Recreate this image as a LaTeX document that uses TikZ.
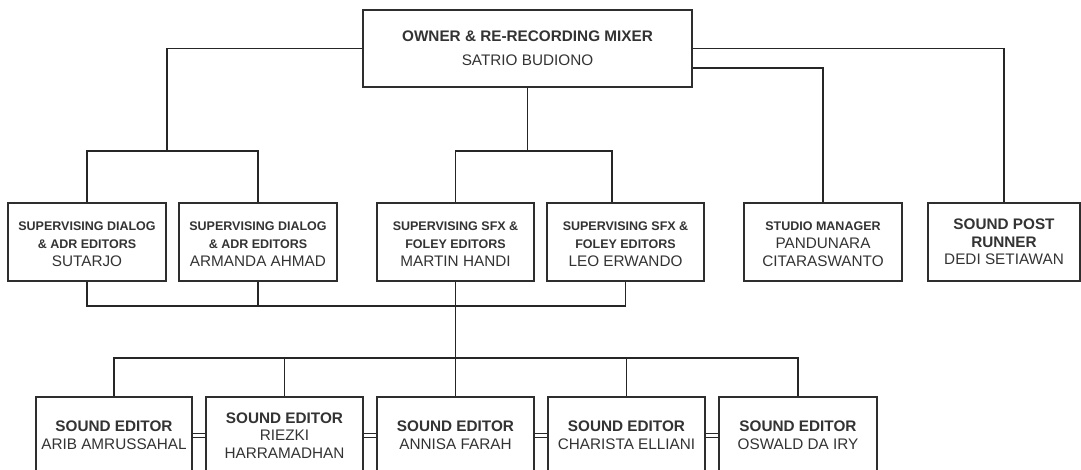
\documentclass[tikz,border=0pt]{standalone}
\usepackage{fontspec}
\setmainfont{Liberation Sans}
\usetikzlibrary{calc}
\newcommand\ttlbig{\fontsize{15.3}{17.7}\selectfont\bfseries}
\newcommand\ttlsmall{\fontsize{12.5}{17.7}\selectfont\bfseries}
\newcommand\pname{\fontsize{15.3}{17.7}\selectfont\mdseries}
\newcommand\strutA{\rule{0pt}{12.75pt}}
\begin{document}
\begin{tikzpicture}[x=1pt,y=-1pt,
  box/.style={draw=black!82, line width=1.1pt, rectangle, inner sep=0pt, align=center,
    text=black!80, fill=white, font=\pname},
  midbox/.style={box, minimum width=158pt, minimum height=78pt},
  botbox/.style={box, minimum width=157pt, minimum height=77pt},
  wire/.style={draw=black!85, line width=1.1pt}]
\useasboundingbox (0,0) rectangle (1081,470);
\clip (0,0) rectangle (1081,470);

% top
\node[box, minimum width=329pt, minimum height=77pt] (top) at (527.5,48.5)
  {\ttlbig OWNER \& RE-RECORDING MIXER\\[6.3pt]\pname SATRIO BUDIONO};

% middle row
\node[midbox] (sut) at (87,242) {\strutA\ttlsmall SUPERVISING DIALOG\\\ttlsmall \& ADR EDITORS\\\pname SUTARJO};
\node[midbox] (arm) at (258,242) {\strutA\ttlsmall SUPERVISING DIALOG\\\ttlsmall \& ADR EDITORS\\\pname ARMANDA AHMAD};
\node[midbox, minimum width=157pt] (mar) at (455.5,242) {\strutA\ttlsmall SUPERVISING SFX \&\\\ttlsmall FOLEY EDITORS\\\pname MARTIN HANDI};
\node[midbox, minimum width=157pt] (leo) at (625.5,242) {\strutA\ttlsmall SUPERVISING SFX \&\\\ttlsmall FOLEY EDITORS\\\pname LEO ERWANDO};
\node[midbox] (stu) at (823,242) {\strutA\ttlsmall STUDIO MANAGER\\\pname PANDUNARA\\\pname CITARASWANTO};
\node[midbox, minimum width=152pt] (run) at (1004,242) {\ttlbig SOUND POST\\\ttlbig RUNNER\\\pname DEDI SETIAWAN};

% bottom row
\node[botbox, minimum width=156pt] (b1) at (114,435.5) {\ttlbig SOUND EDITOR\\\pname ARIB AMRUSSAHAL};
\node[botbox] (b2) at (284.5,435.5) {\ttlbig SOUND EDITOR\\\pname RIEZKI\\\pname HARRAMADHAN};
\node[botbox] (b3) at (455.5,435.5) {\ttlbig SOUND EDITOR\\\pname ANNISA FARAH};
\node[botbox] (b4) at (626.5,435.5) {\ttlbig SOUND EDITOR\\\pname CHARISTA ELLIANI};
\node[botbox, minimum width=158pt] (b5) at (798,435.5) {\ttlbig SOUND EDITOR\\\pname OSWALD DA IRY};

% junctions
\coordinate (jL) at (167,151);
\coordinate (jM) at (527.5,151);
\coordinate (jB) at (455.5,306);
\coordinate (jC) at (455.5,358);

% top connectors
\draw[wire] (top.west) -| (jL);
\draw[wire] (sut.north) |- (jL) -| (arm.north);
\draw[wire] (top.south) -- (jM);
\draw[wire] (mar.north) |- (jM) -| ([xshift=-13.5pt]leo.north);
\draw[wire] (top.east) -| (run.north);
\draw[wire] ([yshift=-19.5pt]top.east) -| (stu.north);

% middle to bottom
\draw[wire] (sut.south) |- (jB) -| (leo.south);
\draw[wire] (arm.south) -- (arm.south |- jB);
\draw[wire] (mar.south) -- (jB) -- (jC);
\draw[wire] (b1.north) |- (jC) -| (b5.north);
\draw[wire] (b2.north) -- (b2.north |- jC);
\draw[wire] (b3.north) -- (jC);
\draw[wire] (b4.north) -- (b4.north |- jC);

% double links between sound editors
\foreach \a/\b in {b1/b2,b2/b3,b3/b4,b4/b5}{
  \draw[wire] ([yshift=2.3pt]\a.east) -- ([yshift=2.3pt]\b.west);
  \draw[wire] ([yshift=-2.3pt]\a.east) -- ([yshift=-2.3pt]\b.west);
}
\end{tikzpicture}
\end{document}
